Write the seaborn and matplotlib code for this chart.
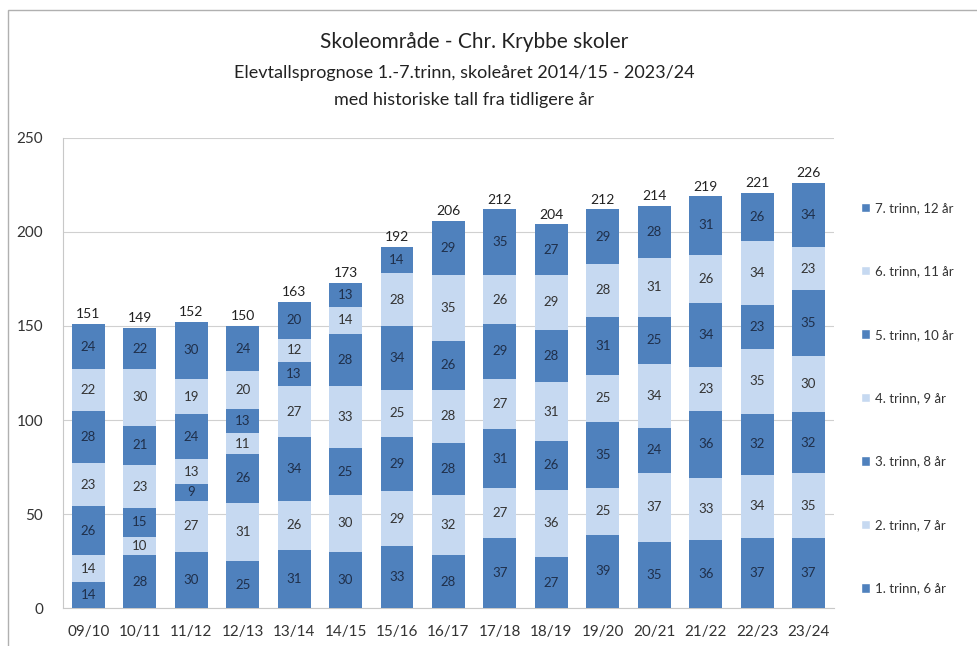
import matplotlib
matplotlib.use("Agg")
import matplotlib.pyplot as plt
import seaborn as sns
import numpy as np
from matplotlib.patches import Rectangle, Patch

# school years on the x axis
years = ["09/10", "10/11", "11/12", "12/13", "13/14", "14/15", "15/16", "16/17",
         "17/18", "18/19", "19/20", "20/21", "21/22", "22/23", "23/24"]

# number of pupils per grade (bottom of the stack first)
trinn1 = [14, 28, 30, 25, 31, 30, 33, 28, 37, 27, 39, 35, 36, 37, 37]
trinn2 = [14, 10, 27, 31, 26, 30, 29, 32, 27, 36, 25, 37, 33, 34, 35]
trinn3 = [26, 15, 9, 26, 34, 25, 29, 28, 31, 26, 35, 24, 36, 32, 32]
trinn4 = [23, 23, 13, 11, 27, 33, 25, 28, 27, 31, 25, 34, 23, 35, 30]
trinn5 = [28, 21, 24, 13, 13, 28, 34, 26, 29, 28, 31, 25, 34, 23, 35]
trinn6 = [22, 30, 19, 20, 12, 14, 28, 35, 26, 29, 28, 31, 26, 34, 23]
trinn7 = [24, 22, 30, 24, 20, 13, 14, 29, 35, 27, 29, 28, 31, 26, 34]

series = [trinn1, trinn2, trinn3, trinn4, trinn5, trinn6, trinn7]
labels = ["1. trinn, 6 år", "2. trinn, 7 år", "3. trinn, 8 år", "4. trinn, 9 år",
          "5. trinn, 10 år", "6. trinn, 11 år", "7. trinn, 12 år"]

dark = "#4f81bd"
light = "#c6d9f1"
colors = [dark, light, dark, light, dark, light, dark]

sns.set_style("white")
plt.rcParams['font.family'] = ['Lato', 'DejaVu Sans']

fig = plt.figure(figsize=(9.78, 6.46), dpi=100)
ax = fig.add_axes([0.064, 0.0588, 0.789, 0.7276])

# stacked bars, one seaborn call per grade
bottom = np.zeros(len(years))
for vals, col, lab in zip(series, colors, labels):
    sns.barplot(x=years, y=vals, bottom=bottom, color=col, width=0.64,
                ax=ax, saturation=1, linewidth=0, zorder=3)
    for i, v in enumerate(vals):
        ax.text(i, bottom[i] + v / 2, str(v), ha="center", va="center",
                fontsize=9.5, color="#1f2f4a" if col == dark else "#333333", zorder=4)
    bottom = bottom + np.array(vals)

# totals on top of the stacks
for i, tot in enumerate(bottom):
    ax.text(i, tot + 2, str(int(tot)), ha="center", va="bottom", fontsize=10, color="#222222")

ax.set_ylim(0, 250)
ax.set_yticks([0, 50, 100, 150, 200, 250])
ax.set_xlim(-0.5, len(years) - 0.5)
ax.yaxis.grid(True, color="#d0d0d0", linewidth=0.8, zorder=0)
ax.set_axisbelow(True)
for s in ["top", "right"]:
    ax.spines[s].set_visible(False)
ax.spines["bottom"].set_color("#c8c8c8")
ax.spines["left"].set_color("#c8c8c8")
ax.tick_params(axis="both", labelsize=11, colors="#333333", length=0)
ax.tick_params(axis="x", pad=12)
ax.tick_params(axis="y", pad=14)
ax.set_xlabel("")
ax.set_ylabel("")

# legend, top entry is 7. trinn
handles = [Patch(facecolor=c) for c in colors[::-1]]
fig.legend(handles, labels[::-1], loc="upper left", bbox_to_anchor=(0.868, 0.706),
           frameon=False, fontsize=9.5, labelspacing=3.9, handlelength=0.7,
           handleheight=0.7, handletextpad=0.4, labelcolor="#333333")

# titles
fig.text(0.485, 0.935, "Skoleområde - Chr. Krybbe skoler", ha="center", va="center",
         fontsize=15, color="#222222")
fig.text(0.475, 0.887, "Elevtallsprognose 1.-7.trinn, skoleåret 2014/15 - 2023/24",
         ha="center", va="center", fontsize=13, color="#222222")
fig.text(0.475, 0.845, "med historiske tall fra tidligere år", ha="center", va="center",
         fontsize=13, color="#222222")

# thin frame like the chart area border
fig.add_artist(Rectangle((0.008, -0.01), 1.0, 0.995, transform=fig.transFigure,
                         fill=False, edgecolor="#b0b0b0", linewidth=1))

fig.savefig("out.png", dpi=100)
